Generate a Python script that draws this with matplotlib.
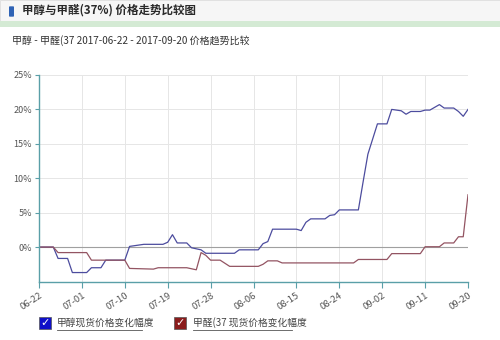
import numpy as np
import pandas as pd
import matplotlib
matplotlib.use("Agg")
import matplotlib.pyplot as plt
import matplotlib.dates as mdates
from matplotlib.patches import Rectangle, FancyBboxPatch
from matplotlib.lines import Line2D

plt.rcParams['font.family'] = ['Noto Sans CJK SC', 'DejaVu Sans']

# 甲醇现货价格变化幅度 (%)
meoh_dates = ["2017-06-22", "2017-06-25", "2017-06-26", "2017-06-28", "2017-06-29",
              "2017-07-02", "2017-07-03", "2017-07-05", "2017-07-06", "2017-07-10",
              "2017-07-11", "2017-07-12", "2017-07-14", "2017-07-18", "2017-07-19",
              "2017-07-20", "2017-07-21", "2017-07-23", "2017-07-24", "2017-07-26",
              "2017-07-27", "2017-08-02", "2017-08-03", "2017-08-07", "2017-08-08",
              "2017-08-09", "2017-08-10", "2017-08-15", "2017-08-16", "2017-08-17",
              "2017-08-18", "2017-08-21", "2017-08-22", "2017-08-23", "2017-08-24",
              "2017-08-28", "2017-08-29", "2017-08-30", "2017-09-01", "2017-09-03",
              "2017-09-04", "2017-09-06", "2017-09-07", "2017-09-08", "2017-09-10",
              "2017-09-11", "2017-09-12", "2017-09-14", "2017-09-15", "2017-09-17",
              "2017-09-18", "2017-09-19", "2017-09-20"]
meoh_vals = [0, 0, -1.65, -1.65, -3.7,
             -3.7, -3.0, -3.0, -1.9, -1.9,
             0.1, 0.2, 0.4, 0.4, 0.7,
             1.8, 0.6, 0.6, -0.1, -0.4,
             -0.9, -0.9, -0.4, -0.4, 0.5,
             0.8, 2.6, 2.6, 2.4, 3.6,
             4.1, 4.1, 4.6, 4.7, 5.4,
             5.4, 9.5, 13.5, 17.9, 17.9,
             20.0, 19.8, 19.3, 19.7, 19.7,
             19.9, 19.9, 20.7, 20.2, 20.2,
             19.7, 19.0, 20.0]

# 甲醛(37 现货价格变化幅度 (%)
hcho_dates = ["2017-06-22", "2017-06-25", "2017-06-26", "2017-07-02", "2017-07-03",
              "2017-07-10", "2017-07-11", "2017-07-16", "2017-07-17", "2017-07-23",
              "2017-07-25", "2017-07-26", "2017-07-27", "2017-07-28", "2017-07-30",
              "2017-08-01", "2017-08-07", "2017-08-08", "2017-08-09", "2017-08-11",
              "2017-08-12", "2017-08-27", "2017-08-28", "2017-09-03", "2017-09-04",
              "2017-09-10", "2017-09-11", "2017-09-14", "2017-09-15", "2017-09-17",
              "2017-09-18", "2017-09-19", "2017-09-20"]
hcho_vals = [0, 0, -0.8, -0.8, -1.9,
             -1.9, -3.1, -3.2, -3.0, -3.0,
             -3.3, -0.8, -1.2, -1.9, -1.9,
             -2.8, -2.8, -2.5, -2.0, -2.0,
             -2.3, -2.3, -1.8, -1.8, -0.95,
             -0.95, 0.05, 0.05, 0.6, 0.6,
             1.5, 1.5, 7.6]

tick_dates = pd.date_range("2017-06-22", "2017-09-20", freq="9D")
y_ticks = [0, 5, 10, 15, 20, 25]

fig = plt.figure(figsize=(5, 3.4), dpi=100)

# header bar
fig.patches.append(Rectangle((0, 1 - 21 / 340), 1, 21 / 340, transform=fig.transFigure,
                             facecolor="#f6f6f6", edgecolor="#dddddd", lw=0.6))
fig.patches.append(Rectangle((0, 1 - 27 / 340), 1, 6 / 340, transform=fig.transFigure,
                             facecolor="#d4ead4", edgecolor="none"))
fig.patches.append(FancyBboxPatch((10 / 500, 1 - 16 / 340), 3 / 500, 9 / 340,
                                  boxstyle="round,pad=0.002", transform=fig.transFigure,
                                  facecolor="#2f63b5", edgecolor="none"))
fig.text(22 / 500, 1 - 10 / 340, "甲醇与甲醛(37%) 价格走势比较图", fontsize=8.3,
         fontweight="bold", color="#2a2a2a", va="center", ha="left")
fig.text(12 / 500, 1 - 41 / 340, "甲醇 - 甲醛(37 2017-06-22 - 2017-09-20 价格趋势比较",
         fontsize=7.2, color="#333333", va="center", ha="left")

ax = fig.add_axes([39 / 500, 1 - 281.5 / 340, 429 / 500, 206.5 / 340])
ax.plot(pd.to_datetime(meoh_dates), meoh_vals, color="#4c4c9e", lw=0.9)
ax.plot(pd.to_datetime(hcho_dates), hcho_vals, color="#935462", lw=0.9)
ax.axhline(0, color="#a0a0a0", lw=0.8, zorder=1)

ax.set_xlim(tick_dates[0], tick_dates[-1])
ax.set_ylim(-5, 25)
ax.set_xticks(tick_dates)
ax.xaxis.set_major_formatter(mdates.DateFormatter("%m-%d"))
ax.set_yticks(y_ticks)
ax.set_yticklabels([f"{v}%" for v in y_ticks])
ax.grid(True, color="#e6e6e6", lw=0.7)
ax.set_axisbelow(True)

for s in ["top", "right"]:
    ax.spines[s].set_visible(False)
for s in ["left", "bottom"]:
    ax.spines[s].set_color("#5a9fa8")
    ax.spines[s].set_linewidth(1.0)

ax.tick_params(axis="y", length=3, color="#5a9fa8", labelsize=6.5, labelcolor="#555555", pad=2)
ax.tick_params(axis="x", length=4, color="#5a9fa8", labelsize=6.8, labelcolor="#555555", pad=3)
for lab in ax.get_xticklabels():
    lab.set_rotation(33)
    lab.set_ha("right")
    lab.set_rotation_mode("anchor")

# legend at bottom
legend_items = [("甲醇现货价格变化幅度", "#1010c8", 39, 57, 142),
                ("甲醛(37 现货价格变化幅度", "#8a1c1c", 174, 193, 292)]
for label, col, bx, tx, tend in legend_items:
    fig.patches.append(Rectangle((bx / 500, 1 - 329 / 340), 12 / 500, 12 / 340,
                                 transform=fig.transFigure, facecolor=col,
                                 edgecolor="#555555", lw=0.5))
    fig.text((bx + 6) / 500, 1 - 323 / 340, "✓", color="white", fontsize=8,
             fontweight="bold", ha="center", va="center", family=["DejaVu Sans"])
    fig.text(tx / 500, 1 - 323 / 340, label, fontsize=7, color="#444444",
             ha="left", va="center")
    fig.add_artist(Line2D([tx / 500, tend / 500], [1 - 330 / 340, 1 - 330 / 340],
                          transform=fig.transFigure, color="#555555", lw=0.6))

fig.savefig("out.png", dpi=100)
